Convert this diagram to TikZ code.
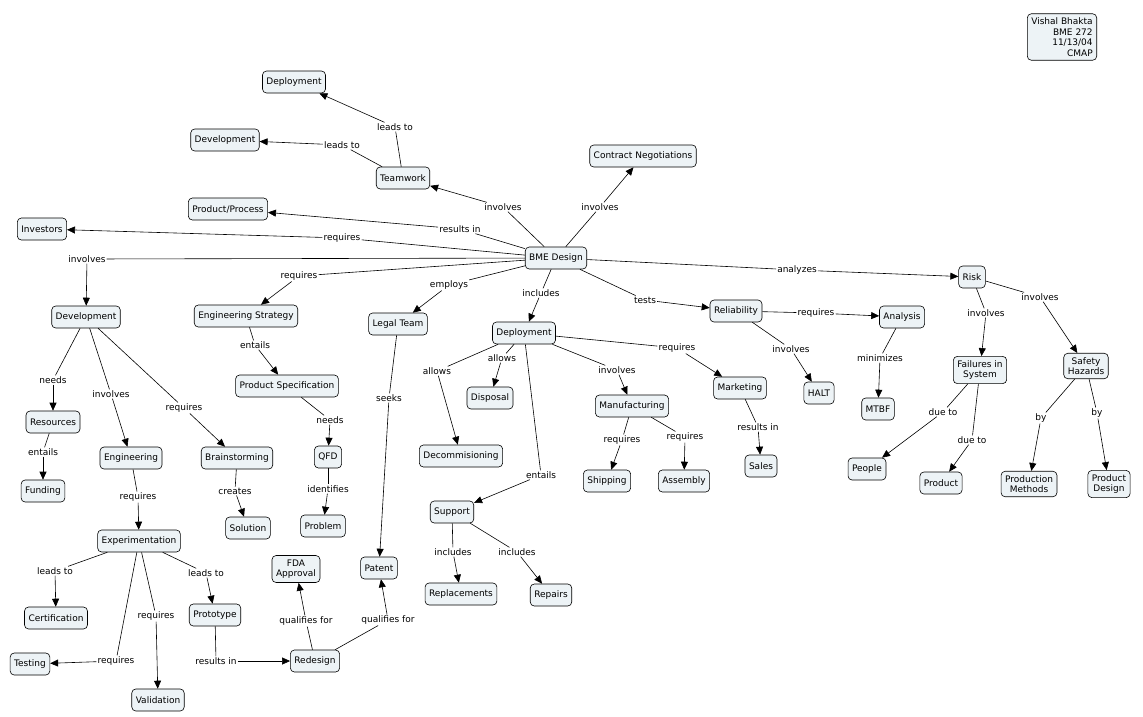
\documentclass[tikz,border=0pt]{standalone}
\usepackage{fontspec}
\setmainfont{DejaVu Sans}
\usetikzlibrary{arrows.meta,positioning}
\definecolor{cbox}{RGB}{237,243,246}
\begin{document}
\begin{tikzpicture}[x=1pt,y=-1pt,font=\fontsize{9}{10.5}\selectfont,
    concept/.style={draw=black,line width=0.6pt,fill=cbox,rounded corners=4pt,
      inner sep=4pt,minimum height=22pt,align=center},
    lbl/.style={fill=white,inner sep=1pt},
    link/.style={line width=0.6pt},
    arr/.style={line width=0.6pt,-{Triangle[length=8pt,width=7pt]}}]
  \useasboundingbox[fill=white] (0,0) rectangle (1143,716);
  % concepts
  \node[concept,align=right] (note) at (1062,37) {Vishal Bhakta\\BME 272\\11/13/04\\CMAP};
  \node[concept] (depA) at (294,82) {Deployment};
  \node[concept] (devA) at (225,140) {Development};
  \node[concept] (team) at (403,178) {Teamwork};
  \node[concept] (contract) at (643,156) {Contract Negotiations};
  \node[concept] (prodproc) at (228,209) {Product/Process};
  \node[concept] (investors) at (42,229) {Investors};
  \node[concept] (bme) at (556,258) {BME Design};
  \node[concept] (risk) at (972,277) {Risk};
  \node[concept] (devB) at (86,317) {Development};
  \node[concept] (engstrat) at (246,316) {Engineering Strategy};
  \node[concept] (legal) at (398,324) {Legal Team};
  \node[concept] (depB) at (524,333) {Deployment};
  \node[concept] (reliab) at (736,311) {Reliability};
  \node[concept] (analysis) at (902,317) {Analysis};
  \node[concept] (failures) at (980,370) {Failures in\\System};
  \node[concept] (safety) at (1086,366) {Safety\\Hazards};
  \node[concept] (prodspec) at (287,386) {Product Specification};
  \node[concept] (disposal) at (490,398) {Disposal};
  \node[concept] (manuf) at (632,406) {Manufacturing};
  \node[concept] (marketing) at (740,388) {Marketing};
  \node[concept] (halt) at (819,393) {HALT};
  \node[concept] (mtbf) at (878,409) {MTBF};
  \node[concept] (resources) at (53,422) {Resources};
  \node[concept] (eng) at (131,458) {Engineering};
  \node[concept] (brain) at (237,458) {Brainstorming};
  \node[concept] (qfd) at (328,457) {QFD};
  \node[concept] (decom) at (461,456) {Decommisioning};
  \node[concept] (shipping) at (607,481) {Shipping};
  \node[concept] (assembly) at (684,481) {Assembly};
  \node[concept] (sales) at (761,466) {Sales};
  \node[concept] (people) at (867,469) {People};
  \node[concept] (product) at (941,483) {Product};
  \node[concept] (prodmeth) at (1029,484) {Production\\Methods};
  \node[concept] (proddes) at (1109,484) {Product\\Design};
  \node[concept] (funding) at (43,491) {Funding};
  \node[concept] (solution) at (248,528) {Solution};
  \node[concept] (problem) at (323,526) {Problem};
  \node[concept] (support) at (452,512) {Support};
  \node[concept] (exper) at (139,541) {Experimentation};
  \node[concept] (fda) at (296,569) {FDA\\Approval};
  \node[concept] (patent) at (379,568) {Patent};
  \node[concept] (replace) at (461,594) {Replacements};
  \node[concept] (repairs) at (551,595) {Repairs};
  \node[concept] (cert) at (56,618) {Certification};
  \node[concept] (proto) at (215,615) {Prototype};
  \node[concept] (testing) at (30,664) {Testing};
  \node[concept] (redesign) at (315,661) {Redesign};
  \node[concept] (valid) at (158,700) {Validation};
  % linking phrases
  \foreach \src/\lx/\ly/\txt/\dst [count=\i] in {
      team/395/127/leads to/depA, team/342/145/leads to/devA,
      bme/503/207/involves/team, bme/600/207/involves/contract,
      bme/460/229/results in/prodproc, bme/342/238/requires/investors,
      bme/87/259/involves/devB, bme/299/276/requires/engstrat,
      bme/449/285/employs/legal, bme/541/293/includes/depB,
      bme/645/300/tests/reliab, bme/797/270/analyzes/risk,
      risk/986/313/involves/failures, risk/1040/297/involves/safety,
      reliab/816/313/requires/analysis, reliab/791/349/involves/halt,
      analysis/880/358/minimizes/mtbf,
      failures/943/412/due to/people, failures/972/440/due to/product,
      safety/1041/418/by/prodmeth, safety/1097/413/by/proddes,
      engstrat/255/345/entails/prodspec, prodspec/330/420/needs/qfd,
      qfd/328/489/identifies/problem, legal/389/398/seeks/patent,
      depB/502/358/allows/disposal, depB/437/371/allows/decom,
      depB/617/370/involves/manuf, depB/677/348/requires/marketing,
      depB/541/475/entails/support, marketing/758/427/results in/sales,
      manuf/622/440/requires/shipping, manuf/685/437/requires/assembly,
      support/453/552/includes/replace, support/517/552/includes/repairs,
      devB/53/380/needs/resources, devB/111/394/involves/eng,
      devB/184/408/requires/brain, resources/43/452/entails/funding,
      eng/138/497/requires/exper, brain/235/491/creates/solution,
      exper/55/571/leads to/cert, exper/206/573/leads to/proto,
      exper/116/661/requires/testing, exper/156/616/requires/valid,
      proto/216/661/results in/redesign,
      redesign/306/621/qualifies for/fda, redesign/388/620/qualifies for/patent} {
    \node[lbl] (l\i) at (\lx,\ly) {\txt};
    \draw[link] (\src) -- (l\i);
    \draw[arr] (l\i) -- (\dst);
  }
\end{tikzpicture}
\end{document}
